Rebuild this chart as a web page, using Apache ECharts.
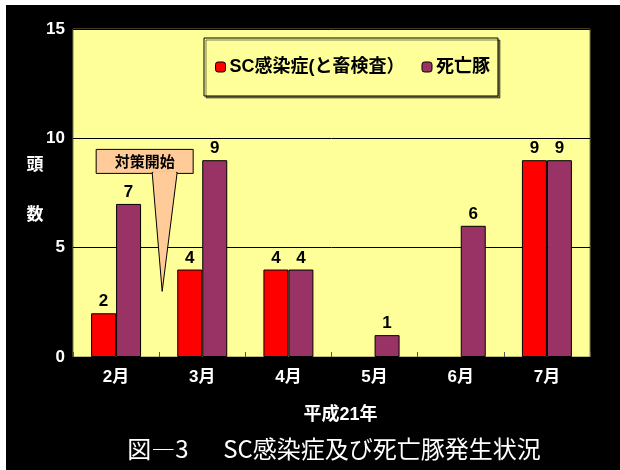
<!DOCTYPE html>
<html>
<head>
<meta charset="utf-8">
<script src="https://cdn.jsdelivr.net/npm/echarts@6/dist/echarts.min.js"></script>
<style>
html,body{margin:0;padding:0;background:#fff;}
#chart{width:620px;height:470px;}
</style>
</head>
<body>
<div id="chart"></div>
<script>
// データ
var months = ['2月', '3月', '4月', '5月', '6月', '7月'];
var scData = [2, 4, 4, 0, 0, 9];      // SC感染症(と畜検査)
var deadData = [7, 9, 4, 1, 6, 9];    // 死亡豚
var yTicks = [0, 5, 10, 15];

var FONT = '"Liberation Sans", "Noto Sans CJK JP", sans-serif';

var chart = echarts.init(document.getElementById('chart'));

function valLabel(p){
	return p.value > 0 ? p.value : '';
}

// 0 の棒は枠線も描かない
function toItems(arr){
	return arr.map(function(v){
		return v > 0 ? v : {value: v, itemStyle: {borderWidth: 0, opacity: 0}};
	});
}

chart.setOption({
	backgroundColor: '#000',
	animation: false,
	textStyle: {fontFamily: FONT},
	grid: {
		left: 73, right: 30, top: 29, bottom: 113,
		show: true,
		backgroundColor: '#FFFF99',
		borderColor: '#7f7f4c',
		borderWidth: 1
	},
	legend: {
		left: 204, top: 38,
		orient: 'horizontal',
		backgroundColor: '#FFFF99',
		borderColor: '#000',
		borderWidth: 1,
		shadowColor: 'rgba(0,0,0,0.5)',
		shadowOffsetX: 2, shadowOffsetY: 2,
		padding: [20, 8, 20, 11],
		itemWidth: 10, itemHeight: 10,
		itemGap: 17,
		textStyle: {fontSize: 18, fontWeight: 'bold', color: '#000', fontFamily: FONT, padding: [0, 0, 0, -1]},
		data: [
			{name: 'SC感染症(と畜検査）', itemStyle: {color: '#FF0000', borderColor: '#000', borderWidth: 1}},
			{name: '死亡豚', itemStyle: {color: '#993366', borderColor: '#000', borderWidth: 1}}
		]
	},
	xAxis: {
		type: 'category',
		data: months,
		name: '平成21年',
		nameLocation: 'middle',
		nameGap: 49,
		nameTextStyle: {color: '#fff', fontSize: 18, fontWeight: 'bold', padding: [0, 0, 0, 18]},
		axisLine: {show: true, lineStyle: {color: '#000'}},
		axisTick: {show: true, inside: true, length: 5, lineStyle: {color: '#555'}},
		axisLabel: {color: '#fff', fontSize: 17, fontWeight: 'bold', margin: 12}
	},
	yAxis: {
		type: 'value',
		min: 0, max: 15, interval: 5,
		axisLine: {show: false},
		axisTick: {show: false},
		axisLabel: {color: '#fff', fontSize: 17, fontWeight: 'bold', margin: 8,
			formatter: function(v){ return yTicks.indexOf(v) >= 0 ? v : ''; }},
		splitLine: {show: true, lineStyle: {color: '#000', width: 1}}
	},
	series: [
		{
			name: 'SC感染症(と畜検査）',
			type: 'bar',
			data: toItems(scData),
			barGap: '0%',
			barCategoryGap: '42%',
			itemStyle: {color: '#FF0000', borderColor: '#000', borderWidth: 1},
			label: {show: true, position: 'top', distance: 3, color: '#000', fontSize: 17, fontWeight: 'bold', formatter: valLabel}
		},
		{
			name: '死亡豚',
			type: 'bar',
			data: toItems(deadData),
			barGap: '0%',
			barCategoryGap: '42%',
			itemStyle: {color: '#993366', borderColor: '#000', borderWidth: 1},
			label: {show: true, position: 'top', distance: 3, color: '#000', fontSize: 17, fontWeight: 'bold', formatter: valLabel}
		}
	]
});

// 吹き出し（対策開始）の位置は軸から求める
var p0 = chart.convertToPixel({gridIndex: 0}, [0, 3]);
var p1 = chart.convertToPixel({gridIndex: 0}, [1, 3]);
var tipX = (p0[0] + p1[0]) / 2 + 3;
var tipY = p0[1];
var boxL = tipX - 66, boxR = tipX + 31, boxT = tipY - 142, boxB = tipY - 118;

chart.setOption({
	graphic: [
		// 上と左の白い余白
		{type: 'rect', left: 0, top: 0, shape: {width: 620, height: 5}, style: {fill: '#fff'}},
		{type: 'rect', left: 0, top: 0, shape: {width: 6, height: 470}, style: {fill: '#fff'}},
		// 吹き出し
		{type: 'rect', shape: {x: boxL, y: boxT, width: boxR - boxL, height: boxB - boxT},
			style: {fill: '#FFCC99', stroke: '#000', lineWidth: 1}, z: 10},
		{type: 'polygon', shape: {points: [[tipX - 10, boxB - 1], [tipX + 15, boxB - 1], [tipX, tipY]]},
			style: {fill: '#FFCC99', stroke: '#000', lineWidth: 1}, z: 11},
		{type: 'line', shape: {x1: tipX - 9, y1: boxB - 1, x2: tipX + 14, y2: boxB - 1},
			style: {stroke: '#FFCC99', lineWidth: 2}, z: 12},
		{type: 'text', x: (boxL + boxR) / 2, y: (boxT + boxB) / 2 + 1, z: 12,
			style: {text: '対策開始', fill: '#000', font: 'bold 15px ' + FONT, align: 'center', verticalAlign: 'middle'}},
		// 縦軸名
		{type: 'text', x: 35, y: 165,
			style: {text: '頭', fill: '#fff', font: 'bold 17px ' + FONT, align: 'center', verticalAlign: 'middle'}},
		{type: 'text', x: 35, y: 215,
			style: {text: '数', fill: '#fff', font: 'bold 17px ' + FONT, align: 'center', verticalAlign: 'middle'}},
		// 図タイトル
		{type: 'text', x: 334, y: 449,
			style: {text: '図―3　  SC感染症及び死亡豚発生状況', fill: '#fff', font: '24px "Noto Sans CJK JP", sans-serif', align: 'center', verticalAlign: 'middle'}}
	]
});
</script>
</body>
</html>
